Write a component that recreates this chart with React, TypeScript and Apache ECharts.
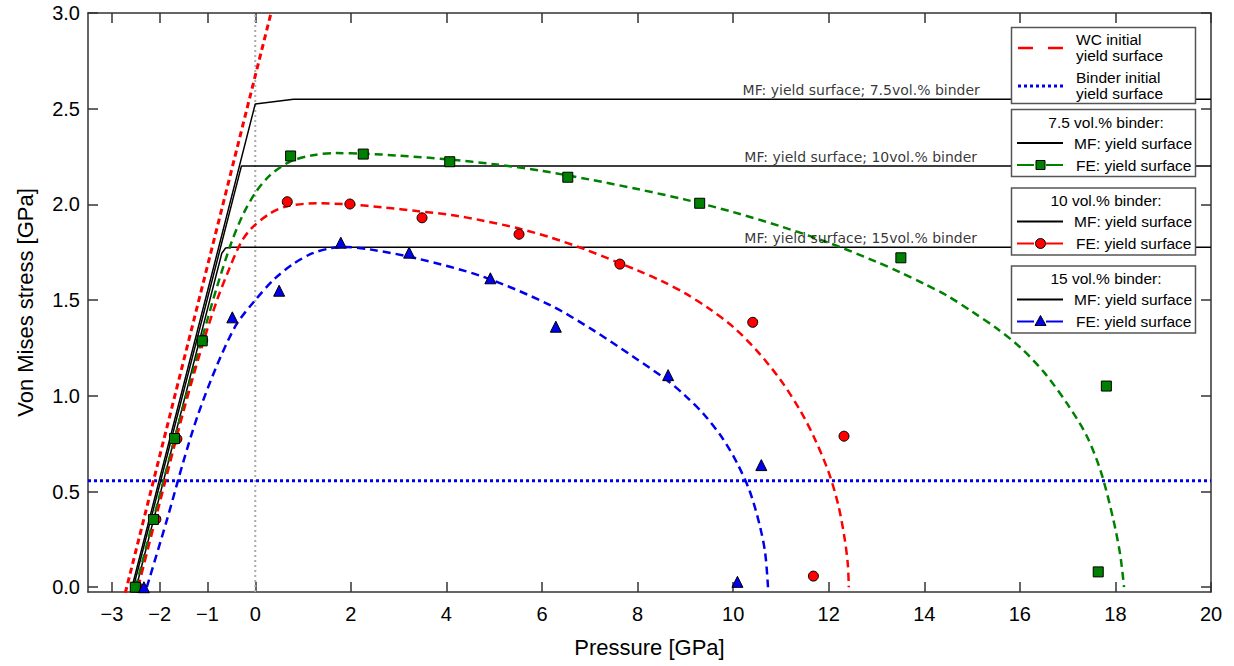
import React, { useEffect, useRef } from "react";
import * as echarts from "echarts";

// ---- tick labels ----
const xTicks = [-3, -2, -1, 0, 2, 4, 6, 8, 10, 12, 14, 16, 18, 20];
const yTicks = [0, 0.5, 1, 1.5, 2, 2.5, 3];

// ---- reference lines ----
const wcInitial = [[-2.72, -0.03], [0.33, 3.0]];
const binderInitial = [[-3.5, 0.556], [20, 0.556]];
const zeroPressure = [[0, -0.025], [0, 3]];

// ---- MF yield surfaces ----
const mf75 = [[-2.58, 0], [0, 2.525], [0.8, 2.549], [20, 2.549]];
const mf10 = [[-2.55, 0], [-0.29, 2.2], [20, 2.2]];
const mf15 = [[-2.49, 0], [-0.7, 1.745], [-0.62, 1.772], [-0.5, 1.776], [20, 1.776]];

// ---- FE fitted curves ----
const fe75Fit = [
  [-2.5, 0], [-2.0, 0.48], [-1.5, 0.95], [-1.1, 1.31], [-0.8, 1.57], [-0.5, 1.8], [-0.25, 1.95],
  [0, 2.06], [0.3, 2.15], [0.7, 2.22], [1.2, 2.257], [1.7, 2.268], [2.3, 2.265], [3, 2.255],
  [4, 2.236], [5, 2.21], [6, 2.175], [7, 2.13], [8, 2.08], [9, 2.025], [10, 1.96], [11, 1.885],
  [12, 1.8], [13, 1.7], [13.5, 1.645], [14, 1.585], [14.5, 1.52], [15, 1.44], [15.5, 1.355],
  [16, 1.255], [16.5, 1.125], [17, 0.955], [17.4, 0.79], [17.7, 0.6], [17.95, 0.36],
  [18.1, 0.17], [18.18, 0],
];
const fe10Fit = [
  [-2.45, 0], [-2.0, 0.44], [-1.5, 0.92], [-1.1, 1.27], [-0.8, 1.5], [-0.55, 1.66], [-0.3, 1.8],
  [-0.08, 1.875], [0.31, 1.953], [0.66, 1.99], [1.28, 2.006], [1.98, 2.0], [2.7, 1.984],
  [3.38, 1.965], [4.1, 1.945], [4.77, 1.915], [5.5, 1.875], [6.17, 1.828], [6.9, 1.765],
  [7.56, 1.7], [8.0, 1.655], [8.5, 1.6], [9.0, 1.535], [9.5, 1.455], [10.0, 1.36], [10.5, 1.235],
  [11.0, 1.08], [11.4, 0.925], [11.7, 0.78], [12.0, 0.6], [12.2, 0.43], [12.33, 0.26],
  [12.4, 0.12], [12.42, 0],
];
const fe15Fit = [
  [-2.27, 0], [-1.85, 0.35], [-1.5, 0.66], [-1.2, 0.9], [-0.8, 1.16], [-0.4, 1.37], [0, 1.5],
  [0.4, 1.61], [0.8, 1.69], [1.2, 1.745], [1.6, 1.772], [1.9, 1.777], [2.4, 1.765], [3.38, 1.718],
  [4.77, 1.622], [6.17, 1.474], [7.07, 1.343], [7.91, 1.204], [8.61, 1.083], [9.0, 1.0],
  [9.4, 0.9], [9.8, 0.77], [10.1, 0.64], [10.35, 0.5], [10.55, 0.33], [10.67, 0.18], [10.73, 0],
];

// ---- FE data points ----
const fe75Points = [
  [-2.51, 0], [-2.13, 0.354], [-1.69, 0.777], [-1.11, 1.287], [0.74, 2.253], [2.26, 2.263],
  [4.07, 2.223], [6.54, 2.142], [9.3, 2.006], [13.51, 1.721], [17.81, 1.051], [17.64, 0.08],
];
const fe10Points = [
  [-2.46, 0], [-2.08, 0.355], [-1.64, 0.775], [-1.1, 1.29], [0.67, 2.014], [1.98, 2.002],
  [3.49, 1.93], [5.52, 1.844], [7.63, 1.688], [10.41, 1.384], [12.32, 0.789], [11.68, 0.058],
];
const fe15Points = [
  [-2.33, 0], [-0.48, 1.41], [0.5, 1.549], [1.79, 1.8], [3.22, 1.748], [4.92, 1.614],
  [6.29, 1.361], [8.64, 1.108], [10.59, 0.638], [10.09, 0.028],
];

// ---- in-plot annotations ----
const mfLabels = [
  [12.68, 2.598, "MF: yield surface; 7.5vol.% binder"],
  [12.67, 2.246, "MF: yield surface; 10vol.% binder"],
  [12.67, 1.826, "MF: yield surface; 15vol.% binder"],
];

const GREEN = "#008000";
const RED = "#ff0000";
const BLUE = "#0000ee";
const AXIS = "#333333";
const ARIAL = "'Liberation Sans', Arial, sans-serif";
const DEJAVU = "'DejaVu Sans', sans-serif";

const fmt = (v: number) => (v < 0 ? "\u2212" + Math.abs(v) : String(v));

function lineSeries(name: string, data: number[][], color: string, width: number, type: any, z = 2) {
  return {
    name,
    type: "line",
    data,
    symbol: "none",
    showSymbol: false,
    smooth: false,
    z,
    lineStyle: { color, width, type },
    emphasis: { disabled: true },
  };
}

function smoothSeries(name: string, data: number[][], color: string) {
  return { ...lineSeries(name, data, color, 2.5, [8, 5], 3), smooth: 0.3 };
}

function pointSeries(name: string, data: number[][], color: string, symbol: string, size: number) {
  return {
    name,
    type: "scatter",
    data,
    symbol,
    symbolSize: size,
    z: 5,
    itemStyle: { color, borderColor: "#000", borderWidth: 1, opacity: 1 },
    emphasis: { disabled: true },
  };
}

// legend helpers (graphic)
function legendText(x: number, y: number, text: string, align = "left") {
  return {
    type: "text",
    x,
    y,
    style: { text, fill: "#000", font: `15.5px ${ARIAL}`, textAlign: align, textVerticalAlign: "middle", lineHeight: 16 },
  };
}
function legendBox(y: number, h: number) {
  return { type: "rect", shape: { x: 1011.5, y, width: 184, height: h }, style: { fill: "#fff", stroke: "#555", lineWidth: 1.5 } };
}
function seg(x1: number, x2: number, y: number, stroke: string, lineWidth: number, lineDash?: number[]) {
  return { type: "line", shape: { x1, y1: y, x2, y2: y }, style: { stroke, lineWidth, lineDash } };
}

function buildGraphic() {
  const g: any[] = [];
  // box 1
  g.push(legendBox(27.5, 76));
  g.push(seg(1018, 1063, 48, RED, 2.5, [15, 15]));
  g.push(legendText(1076, 47, "WC initial\nyield surface"));
  g.push(seg(1018, 1063, 86, BLUE, 3, [3, 3]));
  g.push(legendText(1076, 85, "Binder initial\nyield surface"));
  const groups = [
    { y: 109.5, title: "7.5 vol.% binder:", color: GREEN, marker: "square" },
    { y: 188, title: "10 vol.% binder:", color: RED, marker: "circle" },
    { y: 266, title: "15 vol.% binder:", color: BLUE, marker: "triangle" },
  ];
  for (const gr of groups) {
    const y0 = gr.y;
    g.push(legendBox(y0, 67));
    g.push(legendText(1106, y0 + 12.5, gr.title, "center"));
    g.push(seg(1017, 1063, y0 + 33.5, "#000", 2));
    g.push(legendText(1074, y0 + 33.5, "MF: yield surface"));
    const ry = y0 + 55.5;
    g.push(seg(1017, 1034, ry, gr.color, 2));
    g.push(seg(1046, 1063, ry, gr.color, 2));
    if (gr.marker === "square") {
      g.push({ type: "rect", shape: { x: 1036, y: ry - 4.5, width: 9, height: 9 }, style: { fill: gr.color, stroke: "#000", lineWidth: 1 }, z: 101 });
    } else if (gr.marker === "circle") {
      g.push({ type: "circle", shape: { cx: 1040.5, cy: ry, r: 5 }, style: { fill: gr.color, stroke: "#000", lineWidth: 1 }, z: 101 });
    } else {
      g.push({ type: "polygon", shape: { points: [[1040.5, ry - 6], [1046, ry + 4], [1035, ry + 4]] }, style: { fill: gr.color, stroke: "#000", lineWidth: 1 }, z: 101 });
    }
    g.push(legendText(1076, ry, "FE: yield surface"));
  }
  return g.map((e) => ({ z: 100, ...e }));
}

const axisLineStyle = { color: AXIS, width: 1.5 };

const option: any = {
  animation: false,
  backgroundColor: "#fff",
  grid: { left: 88, right: 23, top: 13, bottom: 74, containLabel: false },
  xAxis: [
    {
      type: "value",
      min: -3.5,
      max: 20,
      position: "bottom",
      name: "Pressure [GPa]",
      nameLocation: "middle",
      nameGap: 44,
      nameTextStyle: { fontFamily: ARIAL, fontSize: 22, color: "#000" },
      axisLine: { show: true, onZero: false, lineStyle: axisLineStyle },
      axisTick: { show: true, inside: true, length: 10, customValues: xTicks, lineStyle: axisLineStyle },
      axisLabel: { customValues: xTicks, formatter: fmt, fontFamily: ARIAL, fontSize: 20, color: "#000", margin: 12 },
      splitLine: { show: false },
    },
    {
      type: "value",
      min: -3.5,
      max: 20,
      position: "top",
      axisLine: { show: true, onZero: false, lineStyle: axisLineStyle },
      axisTick: { show: true, inside: true, length: 10, customValues: xTicks, lineStyle: axisLineStyle },
      axisLabel: { show: false },
      splitLine: { show: false },
    },
  ],
  yAxis: [
    {
      type: "value",
      min: -0.025,
      max: 3,
      position: "left",
      name: "Von Mises stress [GPa]",
      nameLocation: "middle",
      nameRotate: 90,
      nameGap: 52,
      nameTextStyle: { fontFamily: ARIAL, fontSize: 22, color: "#000" },
      axisLine: { show: true, onZero: false, lineStyle: axisLineStyle },
      axisTick: { show: true, inside: true, length: 10, customValues: yTicks, lineStyle: axisLineStyle },
      axisLabel: { customValues: yTicks, formatter: (v: number) => v.toFixed(1), fontFamily: ARIAL, fontSize: 20, color: "#000", margin: 8 },
      splitLine: { show: false },
    },
    {
      type: "value",
      min: -0.025,
      max: 3,
      position: "right",
      axisLine: { show: true, onZero: false, lineStyle: axisLineStyle },
      axisTick: { show: true, inside: true, length: 10, customValues: yTicks, lineStyle: axisLineStyle },
      axisLabel: { show: false },
      splitLine: { show: false },
    },
  ],
  series: [
    lineSeries("zero", zeroPressure, "#aaaaaa", 2, [2, 3], 1),
    lineSeries("Binder initial yield surface", binderInitial, BLUE, 3, [3, 3], 2),
    lineSeries("WC initial yield surface", wcInitial, RED, 3, [6, 4], 2),
    lineSeries("MF 7.5", mf75, "#000", 1.5, "solid", 2),
    lineSeries("MF 10", mf10, "#000", 1.5, "solid", 2),
    lineSeries("MF 15", mf15, "#000", 1.5, "solid", 2),
    smoothSeries("FE 7.5 fit", fe75Fit, GREEN),
    smoothSeries("FE 10 fit", fe10Fit, RED),
    smoothSeries("FE 15 fit", fe15Fit, BLUE),
    pointSeries("FE 10", fe10Points, RED, "circle", 10),
    pointSeries("FE 7.5", fe75Points, GREEN, "rect", 10),
    pointSeries("FE 15", fe15Points, BLUE, "triangle", 11),
    {
      name: "MF labels",
      type: "scatter",
      data: mfLabels.map((d) => ({ value: [d[0], d[1]], name: d[2] })),
      symbol: "circle",
      symbolSize: 1,
      itemStyle: { color: "transparent" },
      z: 4,
      emphasis: { disabled: true },
      label: {
        show: true,
        position: "inside",
        formatter: (p: any) => p.name,
        fontFamily: DEJAVU,
        fontSize: 14,
        color: "#000",
      },
    },
  ],
  graphic: buildGraphic(),
};

export default function App() {
  const ref = useRef<HTMLDivElement>(null);
  useEffect(() => {
    const chart = echarts.init(ref.current!, null, { renderer: "svg" });
    chart.setOption(option);
    return () => chart.dispose();
  }, []);
  return (
    <div
      ref={ref}
      style={{ position: "fixed", left: 0, top: 0, width: 1234, height: 666, background: "#fff" }}
    />
  );
}
